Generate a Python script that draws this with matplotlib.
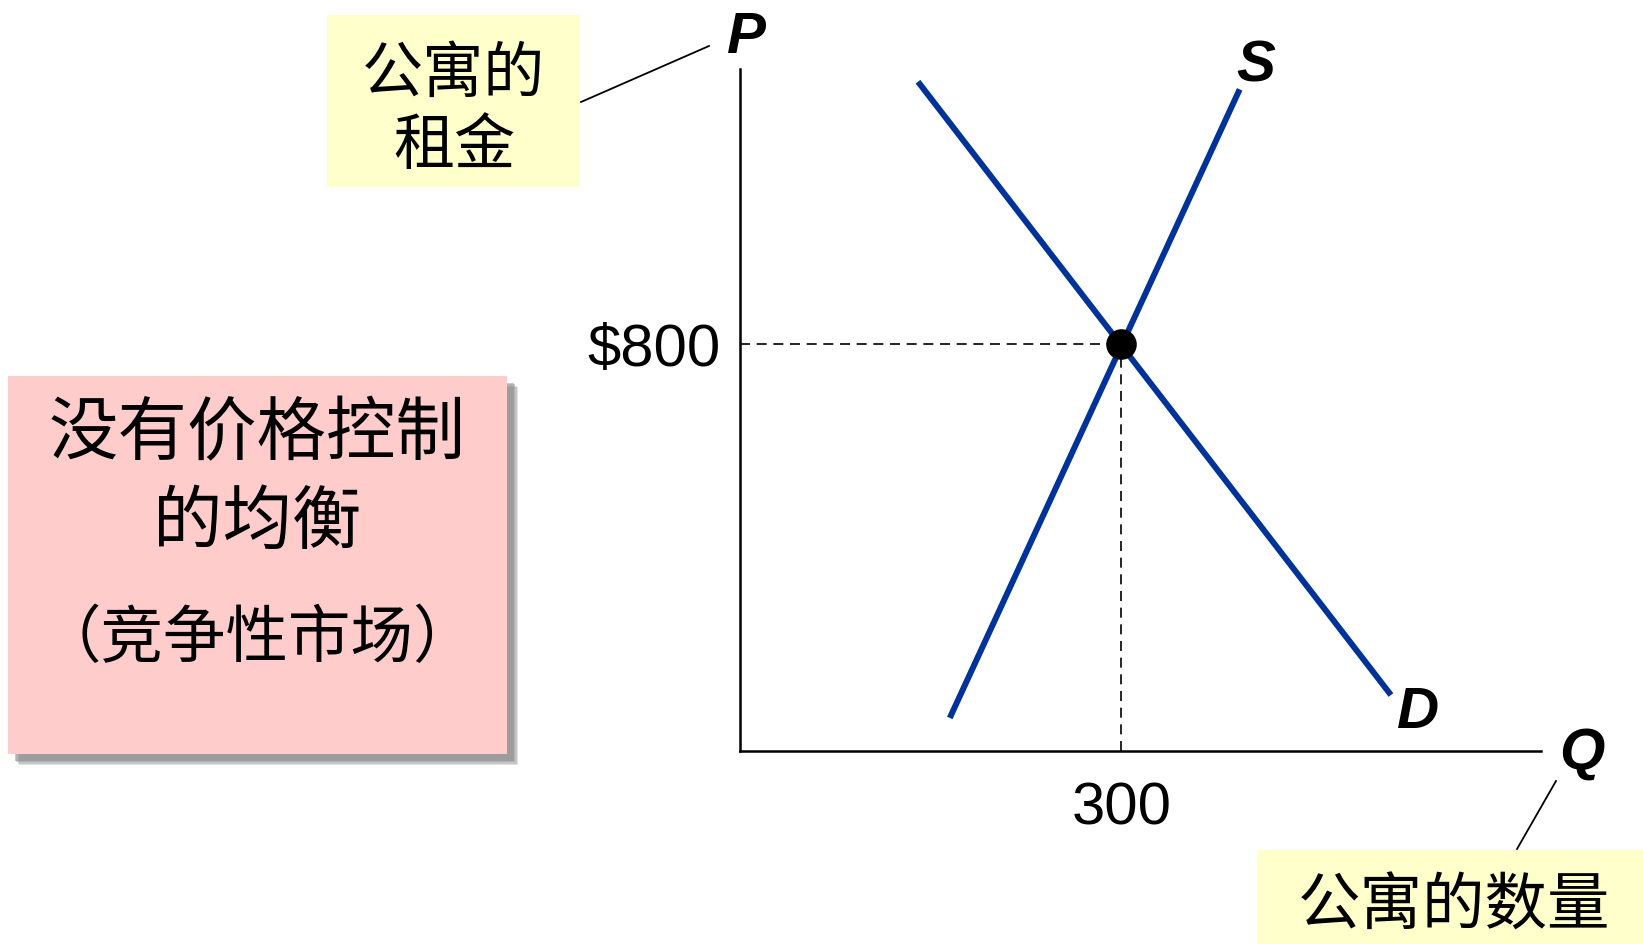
import matplotlib.pyplot as plt
from matplotlib.patches import Rectangle

# fonts
cjk = ['Noto Sans CJK SC', 'DejaVu Sans']
latin = 'Liberation Sans'

# Data
## axis ranges (quantity, price)
q_max = 630
p_max = 1340

## supply and demand lines
supply_q = [165, 393]
supply_p = [65, 1300]
demand_q = [140, 512]
demand_p = [1315, 110]

## equilibrium
eq_q = 300
eq_p = 800
eq_q_label = '300'
eq_p_label = '$800'

## text
price_label = '公寓的\n租金'
qty_label = '公寓的数量'
box_title = '没有价格控制\n的均衡'
box_sub = '（竞争性市场）'

W, H = 1643, 945
fig = plt.figure(figsize=(W / 100, H / 100), dpi=100)


def fx(x):
    return x / W


def fy(y):
    return 1 - y / H


# main axes
ax = fig.add_axes([fx(740), fy(752), fx(1541) - fx(740), fy(70) - fy(752)])
ax.set_xlim(0, q_max)
ax.set_ylim(0, p_max)
for side in ['top', 'right']:
    ax.spines[side].set_visible(False)
for side in ['left', 'bottom']:
    ax.spines[side].set_linewidth(1.8)
ax.set_facecolor('none')

ax.plot(supply_q, supply_p, color='#003399', lw=4.3, solid_capstyle='butt')
ax.plot(demand_q, demand_p, color='#003399', lw=4.3, solid_capstyle='butt')
ax.plot([0, eq_q], [eq_p, eq_p], color='black', lw=1.2, ls=(0, (6, 4)))
ax.plot([eq_q, eq_q], [0, eq_p], color='black', lw=1.2, ls=(0, (6, 4)))
ax.plot([eq_q], [eq_p], 'o', color='black', markersize=21, zorder=5)

ax.set_xticks([eq_q])
ax.set_xticklabels([eq_q_label])
ax.set_yticks([eq_p])
ax.set_yticklabels([eq_p_label])
ax.tick_params(length=0, labelsize=43)
for lab in ax.get_xticklabels() + ax.get_yticklabels():
    lab.set_family(latin)
ax.tick_params(axis='x', pad=21)
ax.tick_params(axis='y', pad=14)

# axis letters and curve labels
bi = dict(family=latin, fontweight='bold', fontstyle='italic', fontsize=42,
          ha='center', va='center')
fig.text(fx(746), fy(38), 'P', **bi)
fig.text(fx(1582), fy(754), 'Q', **bi)
fig.text(fx(1256), fy(66), 'S', **bi)
fig.text(fx(1418), fy(713), 'D', **bi)

# yellow label boxes
fig.add_artist(Rectangle((fx(327), fy(188)), fx(580) - fx(327), fy(16) - fy(188),
                         transform=fig.transFigure, facecolor='#FFFFCC',
                         edgecolor='none', zorder=0))
fig.text(fx(454), fy(111), price_label, family=cjk, fontsize=44,
         ha='center', va='center', linespacing=1.2)
fig.add_artist(plt.Line2D([fx(581), fx(709)], [fy(103), fy(47)],
                          transform=fig.transFigure, color='black', lw=1.3))

fig.add_artist(Rectangle((fx(1257), 0), 1 - fx(1257), fy(851),
                         transform=fig.transFigure, facecolor='#FFFFCC',
                         edgecolor='none', zorder=0))
fig.text(fx(1454), fy(907), qty_label, family=cjk, fontsize=45,
         ha='center', va='center')
fig.add_artist(plt.Line2D([fx(1556), fx(1517)], [fy(782), fy(850)],
                          transform=fig.transFigure, color='black', lw=1.3))

# pink box with soft shadow
for i, a in enumerate([0.25, 0.3, 0.35, 0.45]):
    off = 11 - i * 1.5
    fig.add_artist(Rectangle((fx(8 + off), fy(755 + off)), fx(507) - fx(8),
                             fy(377) - fy(755), transform=fig.transFigure,
                             facecolor='#888888', alpha=a, edgecolor='none',
                             zorder=0))
fig.add_artist(Rectangle((fx(8), fy(755)), fx(507) - fx(8), fy(377) - fy(755),
                         transform=fig.transFigure, facecolor='#FFCCCC',
                         edgecolor='none', zorder=1))
fig.text(fx(257), fy(479), box_title, family=cjk, fontsize=50,
         ha='center', va='center', linespacing=1.3, zorder=2)
fig.text(fx(257), fy(639), box_sub, family=cjk, fontsize=45,
         ha='center', va='center', zorder=2)

plt.savefig('out.png', dpi=100)
